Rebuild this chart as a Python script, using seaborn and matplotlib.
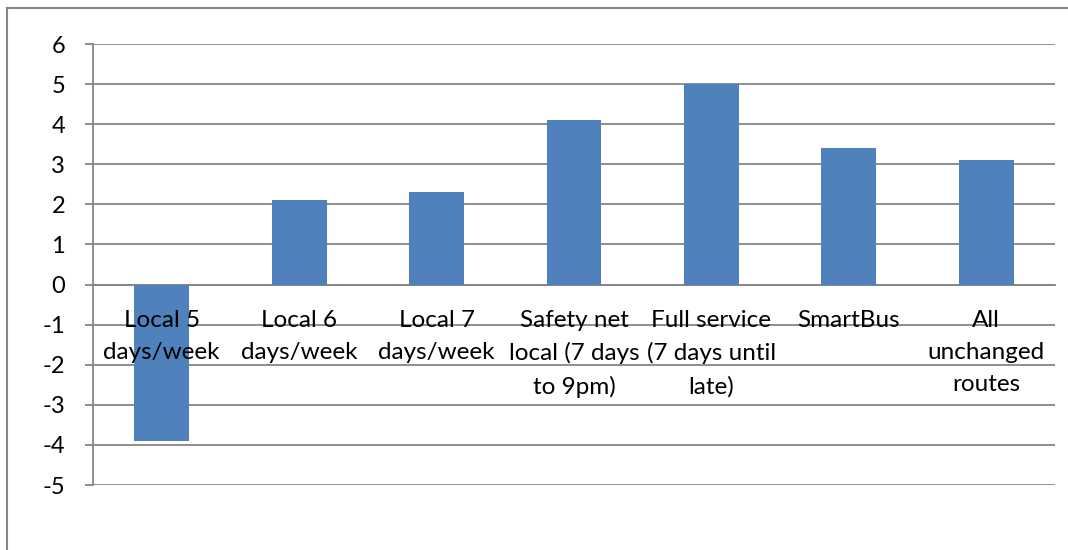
import matplotlib.pyplot as plt
import seaborn as sns
from matplotlib.patches import Rectangle

# Data
categories = ['Local 5\ndays/week', 'Local 6\ndays/week', 'Local 7\ndays/week',
              'Safety net\nlocal (7 days\nto 9pm)', 'Full service\n(7 days until\nlate)',
              'SmartBus', 'All\nunchanged\nroutes']
values = [-3.9, 2.1, 2.3, 4.1, 5.0, 3.4, 3.1]
yticks = list(range(-5, 7))

sns.set_style('white')
plt.rcParams['font.family'] = ['Lato', 'DejaVu Sans']
plt.rcParams['axes.unicode_minus'] = False

grey = '#868686'
W, H = 1068, 550
fig = plt.figure(figsize=(W / 100, H / 100), dpi=100)
ax = fig.add_axes([93 / W, 1 - 485 / H, (1055 - 93) / W, (485 - 44) / H])

sns.barplot(x=categories, y=values, color='#4F81BD', saturation=1, width=0.4,
            linewidth=0, ax=ax, zorder=3)

ax.set_ylim(-5, 6)
ax.set_xlim(-0.5, len(categories) - 0.5)
ax.set_yticks(yticks)
ax.set_axisbelow(True)
ax.yaxis.grid(True, color=grey, lw=1.3)
ax.xaxis.grid(False)

for s in ['top', 'right']:
    ax.spines[s].set_visible(False)
ax.spines['left'].set_color(grey)
ax.spines['left'].set_linewidth(1.3)
ax.spines['bottom'].set_position(('data', 0))
ax.spines['bottom'].set_color(grey)
ax.spines['bottom'].set_linewidth(1.3)

# ticks at category boundaries, labels centred under each bar
ax.set_xticks([i + 0.5 for i in range(-1, len(categories))], minor=True)
ax.tick_params(axis='x', which='minor', length=6, width=1.3, color=grey, direction='out')
ax.tick_params(axis='x', which='major', length=0, pad=18, labelsize=17.5, labelcolor='black')
for lab in ax.get_xticklabels():
    lab.set_linespacing(1.65)
ax.xaxis.set_zorder(5)  # category labels sit on top of the bars
ax.tick_params(axis='y', length=6, width=1.3, color=grey, pad=14, labelsize=17,
               labelcolor='black', left=True)
ax.set_xlabel('')
ax.set_ylabel('')

# outer chart border (only top/left edges visible in the image)
fig.patches.append(Rectangle((7 / W, -0.1), 1.2, 1.1 - 8 / H, transform=fig.transFigure,
                             fill=False, edgecolor=grey, lw=1.5, zorder=0))

fig.savefig('out.png', dpi=100)
